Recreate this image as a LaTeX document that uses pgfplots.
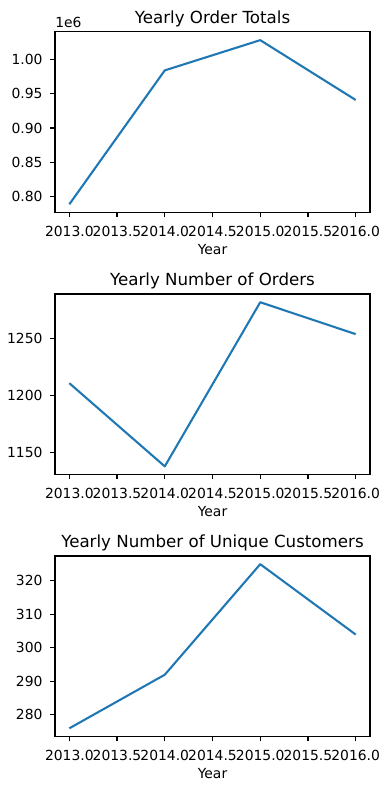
\documentclass[border=0pt]{standalone}
\usepackage{fontspec}
\setmainfont{DejaVu Sans}
\usepackage{pgfplots}
\pgfplotsset{compat=1.18}
\definecolor{tabblue}{HTML}{1F77B4}
\pgfplotsset{
 myax/.style={
  scale only axis, width=226.8pt, height=130pt,
  xmin=2012.85, xmax=2016.15,
  xtick={2013,2013.5,2014,2014.5,2015,2015.5,2016},
  xticklabel style={/pgf/number format/fixed, /pgf/number format/fixed zerofill, /pgf/number format/precision=1, /pgf/number format/1000 sep={}, yshift=-2.5pt},
  yticklabel style={/pgf/number format/1000 sep={}, xshift=-2pt},
  /pgf/number format/assume math mode=true,
  scaled ticks=false,
  tick align=outside, tick pos=left, major tick length=3.5pt,
  every tick/.style={black, line width=0.8pt},
  axis line style={line width=0.8pt, black},
  xlabel={Year},
  title style={font=\fontsize{12}{14}\selectfont, yshift=-6pt},
  tick label style={font=\fontsize{10}{12}\selectfont},
  label style={font=\fontsize{10}{12}\selectfont},
  xlabel style={yshift=1pt},
  anchor=north west,
  clip=false,
 },
 myline/.style={color=tabblue, line width=1.5pt, mark=none, line join=round},
}
\begin{document}
\begin{tikzpicture}
\path[use as bounding box] (0,0) rectangle (280.08pt,-568.8pt);
\begin{axis}[myax, at={(39.6pt,-23.0pt)},
  title={Yearly Order Totals},
  ymin=776280, ymax=1040720,
  ytick={800000,850000,900000,950000,1000000},
  yticklabels={0.80,0.85,0.90,0.95,1.00}]
\addplot[myline] coordinates {(2013,788300) (2014,984400) (2015,1028700) (2016,941100)};
\node[anchor=south west, font=\fontsize{10}{12}\selectfont, inner sep=0pt, yshift=3pt] at (rel axis cs:0,1) {1e6};
\end{axis}
\begin{axis}[myax, at={(39.6pt,-211.7pt)},
  title={Yearly Number of Orders},
  ymin=1130.8, ymax=1289.2,
  ytick={1150,1200,1250}]
\addplot[myline] coordinates {(2013,1211) (2014,1138) (2015,1282) (2016,1254)};
\end{axis}
\begin{axis}[myax, at={(39.6pt,-400.3pt)},
  title={Yearly Number of Unique Customers},
  ymin=273.55, ymax=327.45,
  ytick={280,290,300,310,320}]
\addplot[myline] coordinates {(2013,276) (2014,292) (2015,325) (2016,304)};
\end{axis}
\end{tikzpicture}
\end{document}
